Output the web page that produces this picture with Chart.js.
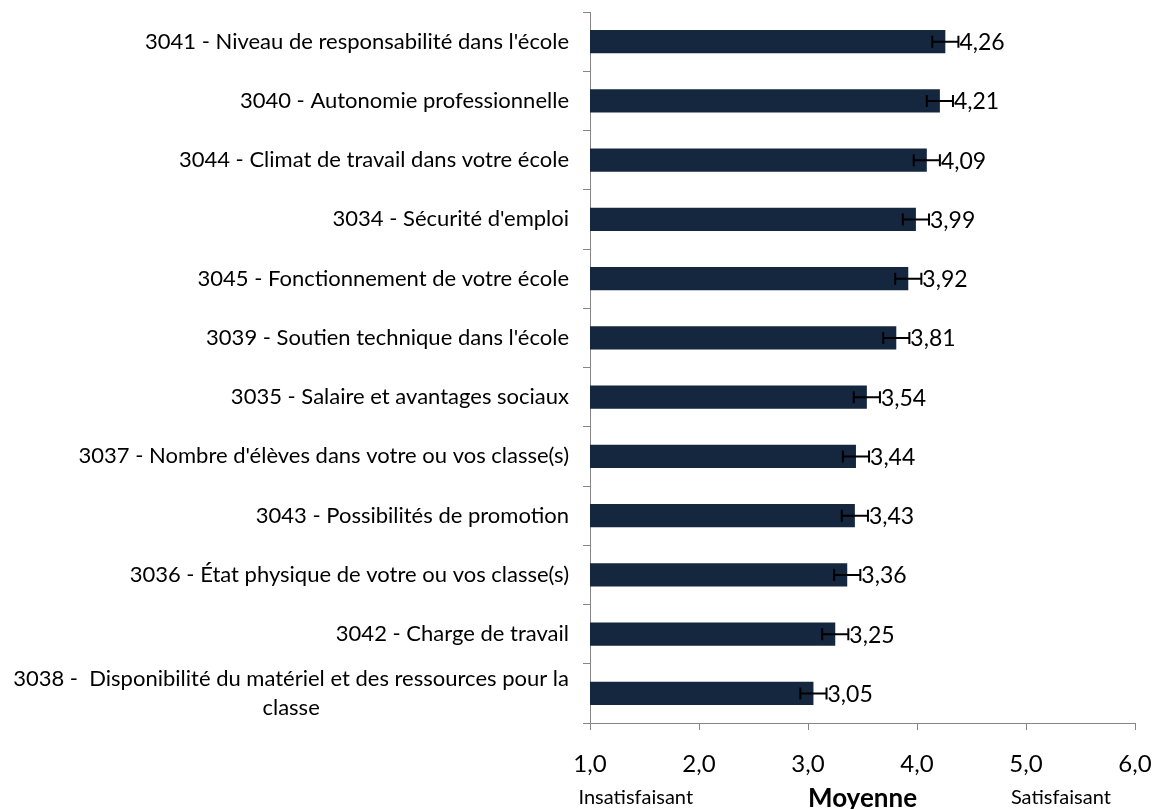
<!DOCTYPE html>
<html lang="fr">
<head>
  <meta charset="UTF-8" />
  <title>Satisfaction - moyennes</title>
  <script src="https://cdn.jsdelivr.net/npm/chart.js"></script>
  <style>
    html, body { margin: 0; padding: 0; background: #fff; }
    #wrap { width: 1154px; height: 809px; }
  </style>
</head>
<body>
  <div id="wrap"><canvas id="chart"></canvas></div>

  <script>
    const categories = [
      "3041 - Niveau de responsabilité dans l'école",
      "3040 - Autonomie professionnelle",
      "3044 - Climat de travail dans votre école",
      "3034 - Sécurité d'emploi",
      "3045 - Fonctionnement de votre école",
      "3039 - Soutien technique dans l'école",
      "3035 - Salaire et avantages sociaux",
      "3037 - Nombre d'élèves dans votre ou vos classe(s)",
      "3043 - Possibilités de promotion",
      "3036 - État physique de votre ou vos classe(s)",
      "3042 - Charge de travail",
      ["3038 -  Disponibilité du matériel et des ressources pour la", "classe"]
    ];
    const moyennes = [4.26, 4.21, 4.09, 3.99, 3.92, 3.81, 3.54, 3.44, 3.43, 3.36, 3.25, 3.05];
    const erreurs = [0.12, 0.12, 0.12, 0.12, 0.12, 0.12, 0.12, 0.12, 0.12, 0.12, 0.12, 0.12];
    const xMin = 1, xMax = 6;
    const echelle = ["Insatisfaisant", "Satisfaisant"];

    const FONT = "Lato";
    const fmt = v => v.toFixed(2).replace(".", ",");

    // error bars + value labels
    const errorBars = {
      id: "errorBars",
      afterDatasetsDraw(chart) {
        const { ctx, scales: { x, y } } = chart;
        ctx.save();
        ctx.strokeStyle = "#000";
        ctx.lineWidth = 2;
        ctx.fillStyle = "#000";
        ctx.font = "23px " + FONT;
        ctx.textAlign = "left";
        ctx.textBaseline = "middle";
        moyennes.forEach((v, i) => {
          const py = y.getPixelForValue(i);
          const x0 = x.getPixelForValue(v - erreurs[i]);
          const x1 = x.getPixelForValue(v + erreurs[i]);
          ctx.beginPath();
          ctx.moveTo(x0, py); ctx.lineTo(x1, py);
          ctx.moveTo(x0, py - 6); ctx.lineTo(x0, py + 6);
          ctx.moveTo(x1, py - 6); ctx.lineTo(x1, py + 6);
          ctx.stroke();
          ctx.fillText(fmt(v), x1 + 1, py + 1);
        });
        ctx.restore();
      }
    };

    // category labels: right aligned, wrapped label centred on itself
    const catLabels = {
      id: "catLabels",
      afterDraw(chart) {
        const { ctx, scales: { x, y } } = chart;
        ctx.save();
        ctx.fillStyle = "#000";
        ctx.font = "22px " + FONT;
        ctx.textBaseline = "middle";
        const right = y.right - 21;
        categories.forEach((lab, i) => {
          const py = y.getPixelForValue(i);
          if (!Array.isArray(lab)) {
            ctx.textAlign = "right";
            ctx.fillText(lab, right, py);
          } else {
            const w = Math.max(...lab.map(l => ctx.measureText(l).width));
            ctx.textAlign = "center";
            lab.forEach((l, k) => {
              ctx.fillText(l, right - w / 2, py + (k - (lab.length - 1) / 2) * 29);
            });
          }
        });
        // scale end captions
        ctx.font = "20px " + FONT;
        ctx.textAlign = "center";
        ctx.fillText(echelle[0], x.getPixelForValue(1.42), 798);
        ctx.fillText(echelle[1], x.getPixelForValue(5.32), 798);
        ctx.restore();
      }
    };

    new Chart(document.getElementById("chart"), {
      type: "bar",
      data: {
        labels: categories,
        datasets: [{
          data: moyennes,
          backgroundColor: "#15263f",
          barPercentage: 0.78,
          categoryPercentage: 0.5
        }]
      },
      options: {
        indexAxis: "y",
        responsive: true,
        maintainAspectRatio: false,
        animation: false,
        layout: { padding: { top: 12, right: 19, bottom: 0, left: 0 } },
        plugins: { legend: { display: false }, tooltip: { enabled: false } },
        scales: {
          x: {
            type: "linear",
            min: xMin,
            max: xMax,
            ticks: {
              stepSize: 1,
              color: "#000",
              font: { family: FONT, size: 24, lineHeight: 0.92 },
              padding: 1,
              // blank first line pushes the label down without widening the right margin
              callback: v => ["", v.toFixed(1).replace(".", ",")]
            },
            grid: { drawOnChartArea: false, drawTicks: true, tickLength: 7, color: "#868686" },
            border: { color: "#868686" },
            title: {
              display: true,
              text: "Moyenne",
              color: "#000",
              font: { family: FONT, size: 26, weight: "bold" },
              padding: { top: 0, bottom: -5 }
            },
            afterFit: s => { s.height = 86; }
          },
          y: {
            ticks: { display: false },
            grid: { drawOnChartArea: false, drawTicks: true, tickLength: 7, offset: true, color: "#868686" },
            border: { color: "#868686" },
            afterFit: s => { s.width = 590; }
          }
        }
      },
      plugins: [errorBars, catLabels]
    });
  </script>
</body>
</html>
